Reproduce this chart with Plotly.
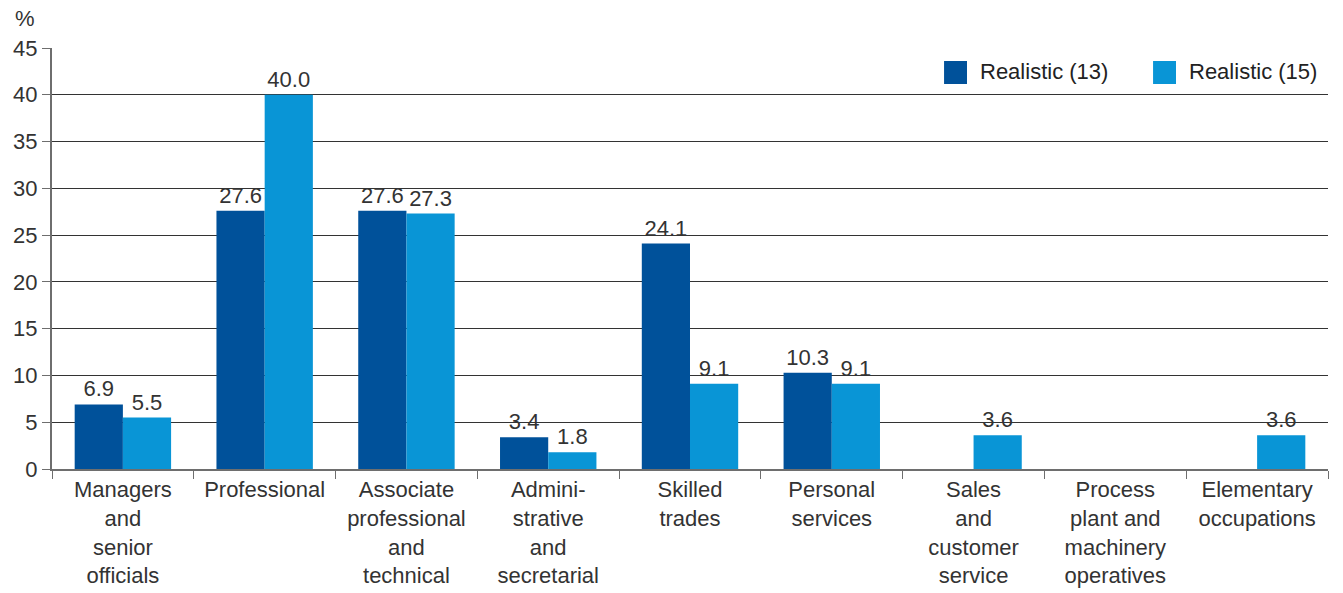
import plotly.graph_objects as go

categories = [
    "Managers<br>and<br>senior<br>officials",
    "Professional",
    "Associate<br>professional<br>and<br>technical",
    "Admini-<br>strative<br>and<br>secretarial",
    "Skilled<br>trades",
    "Personal<br>services",
    "Sales<br>and<br>customer<br>service",
    "Process<br>plant and<br>machinery<br>operatives",
    "Elementary<br>occupations",
]
realistic_13 = [6.9, 27.6, 27.6, 3.4, 24.1, 10.3, None, None, None]
realistic_15 = [5.5, 40.0, 27.3, 1.8, 9.1, 9.1, 3.6, None, 3.6]
series_names = ["Realistic (13)", "Realistic (15)"]
colors = ["#00519A", "#0995D6"]
y_ticks = [0, 5, 10, 15, 20, 25, 30, 35, 40, 45]

FONT = "Liberation Sans, Arial, Helvetica, sans-serif"
TXT = "#333333"
FS = 22

fig = go.Figure()
for name, vals, col in zip(series_names, [realistic_13, realistic_15], colors):
    fig.add_trace(go.Bar(
        x=categories, y=vals, name=name, marker=dict(color=col, line=dict(width=0)),
        text=[f"{v:.1f}" if v is not None else "" for v in vals],
        textposition="outside", textfont=dict(size=FS, color=TXT, family=FONT),
        cliponaxis=False, showlegend=False,
    ))

fig.update_layout(
    width=1343, height=593,
    margin=dict(l=52, r=15, t=48, b=124, autoexpand=False),
    paper_bgcolor="white", plot_bgcolor="white",
    barmode="group", bargap=0.32, bargroupgap=0,
    font=dict(family=FONT, size=FS, color=TXT),
    uniformtext=dict(minsize=FS, mode="show"),
    showlegend=False,
)
fig.update_yaxes(
    range=[0, 45], tickvals=y_ticks, showgrid=True, gridcolor="#333333", gridwidth=1,
    showline=True, linecolor="#6e6e6e", linewidth=2, ticks="outside", ticklen=8,
    tickcolor="#6e6e6e", tickfont=dict(size=FS, color=TXT), zeroline=False,
    automargin=False,
)
fig.update_xaxes(
    showline=True, linecolor="#6e6e6e", linewidth=2, ticks="outside", ticklen=8,
    tickcolor="#6e6e6e", tickson="boundaries", tickfont=dict(size=FS, color=TXT),
    tickangle=0, automargin=False,
)
fig.add_annotation(text="%", xref="paper", yref="paper", x=-0.012, y=1.0, yshift=30,
                   xanchor="right", yanchor="middle", showarrow=False,
                   font=dict(size=FS, color=TXT))

# manual legend (large square swatches)
legend_items = [(0.6991, 0.7171, 0.7257), (0.8629, 0.8809, 0.8895)]
for (x0, x1, tx), name, col in zip(legend_items, series_names, colors):
    fig.add_shape(type="rect", xref="paper", yref="paper", x0=x0, x1=x1,
                  y0=0.9145, y1=0.9691, fillcolor=col, line=dict(width=0))
    fig.add_annotation(text=name, xref="paper", yref="paper", x=tx, y=0.943,
                       xanchor="left", yanchor="middle", showarrow=False,
                       font=dict(size=FS, color="#222222"))

fig.write_html("out.html", config={"displayModeBar": False},
               post_script="document.body.style.margin='0';")
